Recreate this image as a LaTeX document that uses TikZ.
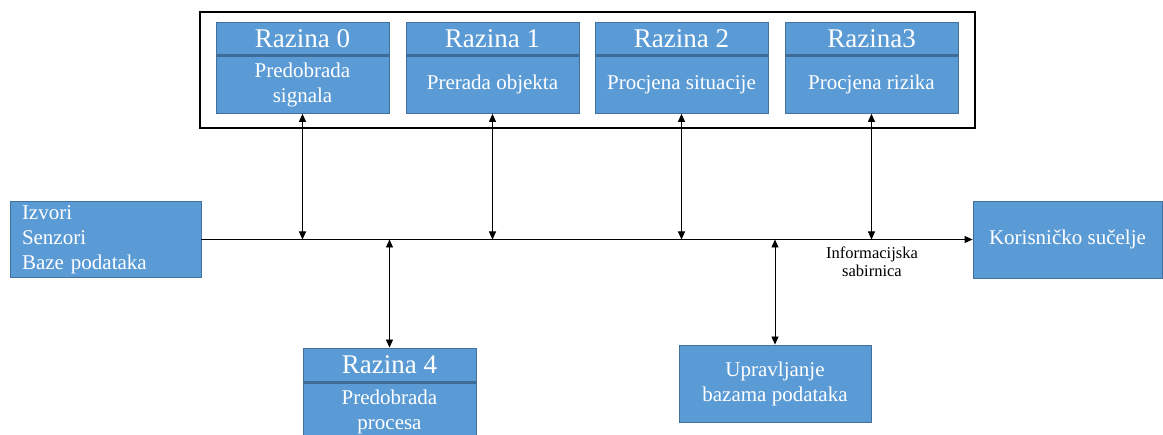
\documentclass[tikz,border=0pt]{standalone}
\usepackage{fontspec}
\setmainfont{Liberation Serif}
\usetikzlibrary{arrows.meta}
\definecolor{boxfill}{HTML}{5B9BD5}
\definecolor{boxline}{HTML}{41719C}
\definecolor{divline}{HTML}{3E6C96}
\tikzset{
  blk/.style={draw=boxline, line width=0.9pt, fill=boxfill, text=white, inner sep=0pt, align=center},
  hdr/.style={blk, minimum width=173pt, minimum height=32.5pt, font=\fontsize{27}{30}\selectfont},
  bdy/.style={blk, minimum width=173pt, minimum height=57.5pt, font=\fontsize{21}{25}\selectfont},
  txt/.style={font=\fontsize{21}{25}\selectfont},
  divider/.style={draw=divline, line width=2.6pt},
  tip/.style={Triangle[length=8pt,width=7pt]},
  biarr/.style={{Triangle[length=8pt,width=7pt]}-{Triangle[length=8pt,width=7pt]}, line width=0.9pt},
  busarr/.style={-{Triangle[length=8pt,width=7pt]}, line width=0.9pt},
  frame/.style={draw=black, line width=1.8pt}
}
\begin{document}
\begin{tikzpicture}[x=1pt,y=-1pt]
\clip (0,0) rectangle (1163,435);
\fill[white] (0,0) rectangle (1163,435);
% frame
\draw[frame] (200,12) rectangle (975,128);
% levels 0-3
\node[hdr] (h0) at (302.5,38.75) {Razina 0};
\node[bdy, anchor=north] (b0) at (h0.south) {Predobrada\\signala};
\node[hdr] (h1) at (492.5,38.75) {Razina 1};
\node[bdy, anchor=north] (b1) at (h1.south) {Prerada objekta};
\node[hdr] (h2) at (681.5,38.75) {Razina 2};
\node[bdy, anchor=north] (b2) at (h2.south) {Procjena situacije};
\node[hdr] (h3) at (871.5,38.75) {Razina3};
\node[bdy, anchor=north] (b3) at (h3.south) {Procjena rizika};
\foreach \n in {h0,h1,h2,h3}{\draw[divider] (\n.south west) -- (\n.south east);}
% sources and user interface
\node[blk, txt, minimum width=191pt, minimum height=76pt, text width=167pt, align=left] (src) at (105.5,239.5) {Izvori\\Senzori\\Baze podataka};
\node[blk, txt, minimum width=189pt, minimum height=77pt] (kor) at (1067.5,239.5) {Korisničko sučelje};
% level 4 and database management
\node[hdr, minimum height=34pt] (h4) at (389.5,365) {Razina 4};
\node[bdy, anchor=north] (b4) at (h4.south) {Predobrada\\procesa};
\draw[divider] (h4.south west) -- (h4.south east);
\node[blk, txt, minimum width=192pt, minimum height=77pt] (db) at (775,383.5) {Upravljanje\\bazama podataka};
% bus
\draw[busarr] (src.east) -- (kor.west);
\node[font=\fontsize{16.5}{18.5}\selectfont, align=center] (lbl) at (872,262) {Informacijska\\sabirnica};
% vertical connectors
\foreach \n in {b0,b1,b2,b3}{\draw[biarr] (\n.south) -- (\n.south |- src.east);}
\draw[biarr] (h4.north |- src.east) -- (h4.north);
\draw[biarr] (db.north |- src.east) -- (db.north);
\end{tikzpicture}
\end{document}
